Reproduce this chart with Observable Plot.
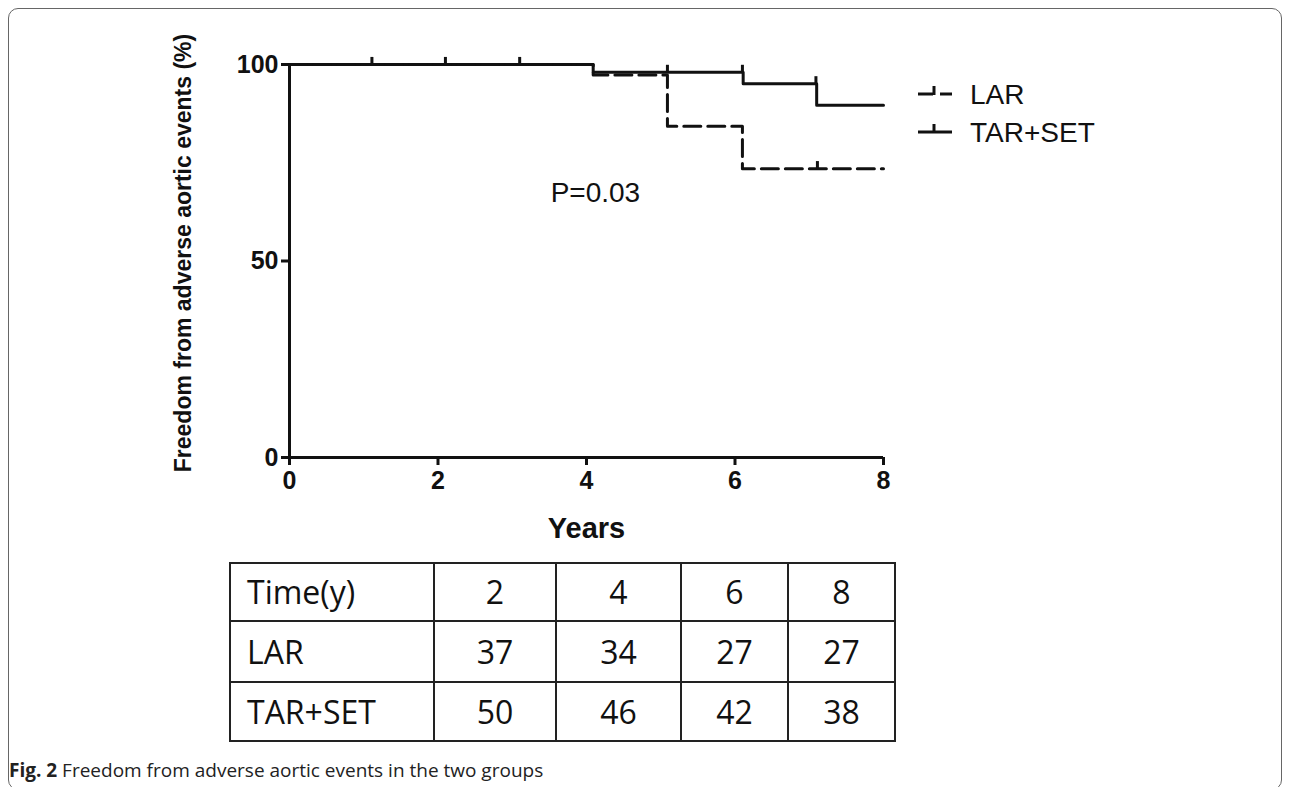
<!DOCTYPE html>
<html><head><meta charset="utf-8">
<script src="https://cdn.jsdelivr.net/npm/d3@7"></script>
<script src="https://cdn.jsdelivr.net/npm/@observablehq/plot@0.6"></script>
<style>
html,body{margin:0;padding:0;background:#fff;}
body{width:1292px;height:787px;overflow:hidden;position:relative;font-family:"Liberation Sans",Arial,sans-serif;color:#111;}
#frame{position:absolute;left:8px;top:8px;width:1274px;height:782px;border:1.5px solid #666;border-radius:10px;box-sizing:border-box;}
#chart{position:absolute;left:0;top:0;}
#legend{position:absolute;left:900px;top:70px;}
#tbl{position:absolute;left:229px;top:562px;border-collapse:collapse;font-family:"Open Sans",sans-serif;font-size:32px;color:#111;}
#tbl td{border:2px solid #222;padding:0;text-align:center;line-height:1;}
#tbl td.first{text-align:left;padding-left:16px;}
#caption{position:absolute;left:9px;top:757px;font-family:"Open Sans",sans-serif;font-size:19px;color:#222;white-space:nowrap;}
</style>
</head><body>
<div id="frame"></div>
<div id="chart"></div>
<div id="legend"></div>
<table id="tbl"></table>
<div id="caption"><b>Fig. 2</b> Freedom from adverse aortic events in the two groups</div>
<script>
// ---- data ----
const seriesNames = ["LAR", "TAR+SET"];
const larTimes = [0, 4.09, 5.09, 6.10, 8.0];
const larSurv  = [100, 97.3, 84.3, 73.5, 73.5];
const tarTimes = [0, 4.09, 6.11, 7.10, 8.0];
const tarSurv  = [100, 98.0, 95.1, 89.6, 89.6];
const larCensorTimes = [7.11];
const larCensorSurv  = [73.5];
const tarCensorTimes = [1.11, 2.10, 3.10, 5.09, 6.10, 7.09];
const tarCensorSurv  = [100, 100, 100, 98.0, 98.0, 95.1];
const xTicks = [0, 2, 4, 6, 8];
const yTicks = [0, 50, 100];
const pLabel = "P=0.03";
const pPos = [4.12, 67.3];
const xTitle = "Years";
const yTitle = "Freedom from adverse aortic events (%)";
const tableHeader = ["Time(y)", "2", "4", "6", "8"];
const tableLAR = [37, 34, 27, 27];
const tableTAR = [50, 46, 42, 38];

// ---- build tables for Plot ----
const lar = larTimes.map((t, i) => ({t, s: larSurv[i]}));
const tar = tarTimes.map((t, i) => ({t, s: tarSurv[i]}));
const larC = larCensorTimes.map((t, i) => ({t, s: larCensorSurv[i]}));
const tarC = tarCensorTimes.map((t, i) => ({t, s: tarCensorSurv[i]}));
const ink = "#111";

const plot = Plot.plot({
  width: 1292, height: 550,
  marginLeft: 289, marginRight: 409, marginTop: 64, marginBottom: 93,
  x: {domain: [0, 8]},
  y: {domain: [0, 100]},
  style: {fontFamily: "'Liberation Sans', Arial, sans-serif", fontSize: "25px", fontWeight: "bold", color: ink, background: "transparent", overflow: "visible"},
  marks: [
    Plot.axisX({ticks: xTicks, tickSize: 8, tickPadding: 6, strokeWidth: 3, label: null, tickFormat: d => String(d)}),
    Plot.axisY({ticks: yTicks, tickSize: 8, tickPadding: 3, strokeWidth: 3, label: null, tickFormat: d => String(d)}),
    Plot.ruleY([0], {stroke: ink, strokeWidth: 3}),
    Plot.ruleX([0], {stroke: ink, strokeWidth: 3}),
    Plot.line(tar, {x: "t", y: "s", curve: "step-after", stroke: ink, strokeWidth: 3}),
    Plot.line(lar, {x: "t", y: "s", curve: "step-after", stroke: ink, strokeWidth: 3, strokeDasharray: "17,7"}),
    Plot.ruleX(tarC, {x: "t", y1: "s", y2: d => d.s + 1.8, stroke: ink, strokeWidth: 3}),
    Plot.ruleX(larC, {x: "t", y1: "s", y2: d => d.s + 1.8, stroke: ink, strokeWidth: 3}),
    Plot.text([pLabel], {x: () => pPos[0], y: () => pPos[1], text: d => d, fontSize: 28, fontWeight: "normal", fill: ink}),
    Plot.text([yTitle], {frameAnchor: "left", textAnchor: "middle", rotate: -90, dx: -106, dy: -8, text: d => d, fontSize: 23, fontWeight: "bold", fill: ink}),
    Plot.text([xTitle], {frameAnchor: "bottom", dy: 80, text: d => d, fontSize: 29, fontWeight: "bold", fill: ink})
  ]
});
document.getElementById("chart").appendChild(plot);

// ---- legend ----
const lg = d3.select("#legend").append("svg").attr("width", 260).attr("height", 90)
  .style("font-family", "'Liberation Sans', Arial, sans-serif");
seriesNames.forEach((name, i) => {
  const y = i === 0 ? 24 : 62;
  const g = lg.append("g").attr("stroke", ink).attr("stroke-width", 3);
  if (i === 0) {
    g.append("line").attr("x1", 18).attr("x2", 33).attr("y1", y).attr("y2", y);
    g.append("line").attr("x1", 40).attr("x2", 52).attr("y1", y).attr("y2", y);
  } else {
    g.append("line").attr("x1", 18).attr("x2", 52).attr("y1", y).attr("y2", y);
  }
  g.append("line").attr("x1", 34).attr("x2", 34).attr("y1", y + 1).attr("y2", y - 8);
  lg.append("text").attr("x", 70).attr("y", y).attr("dy", "0.35em")
    .attr("font-size", 28).attr("fill", ink).text(name);
});

// ---- at-risk table ----
const widths = [202, 120, 123, 105, 105];
const heights = [58, 61, 59];
const rows = [tableHeader, ["LAR", ...tableLAR], ["TAR+SET", ...tableTAR]];
const tbl = d3.select("#tbl");
rows.forEach((r, ri) => {
  const tr = tbl.append("tr").style("height", heights[ri] + "px");
  r.forEach((c, ci) => {
    tr.append("td").attr("class", ci === 0 ? "first" : null)
      .style("width", (ci === 0 ? widths[ci] - 16 : widths[ci]) + "px")
      .text(c);
  });
});
</script>
</body></html>
